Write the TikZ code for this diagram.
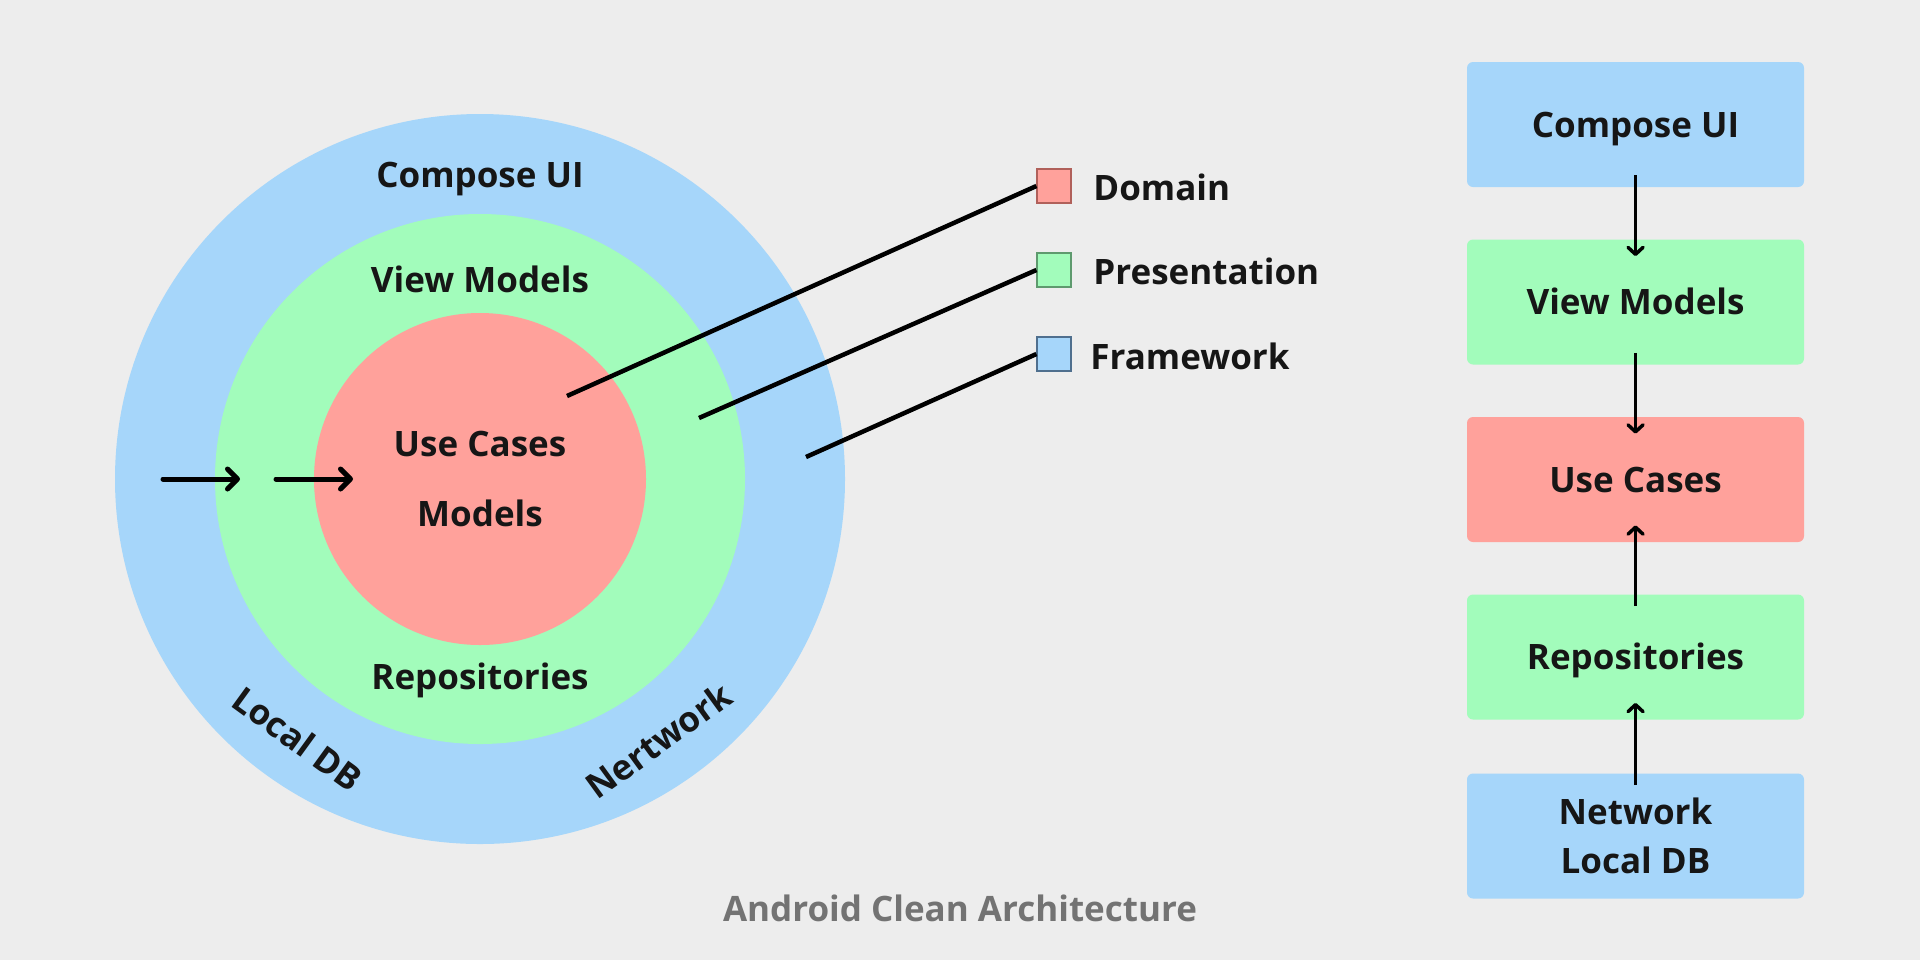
\documentclass[tikz,border=0pt]{standalone}
\usepackage{fontspec}
\setmainfont{Open Sans}
\usetikzlibrary{arrows.meta,calc}
\definecolor{bg}{HTML}{EDEDED}
\definecolor{fw}{HTML}{A6D6FA}
\definecolor{pres}{HTML}{A2FCBB}
\definecolor{dom}{HTML}{FFA19B}
\definecolor{ink}{HTML}{161616}
\definecolor{capgray}{HTML}{737373}
\definecolor{domedge}{HTML}{B0605A}
\definecolor{presedge}{HTML}{5E9A6E}
\definecolor{fwedge}{HTML}{4F6F8E}

\begin{document}
\begin{tikzpicture}[x=0.5pt,y=-0.5pt,
  lbl/.style={font=\fontsize{17.5}{24.5}\selectfont\bfseries, text=ink, inner sep=0pt},
  oneline/.style={text height=12.5pt, text depth=0pt},
  ring/.style={circle, inner sep=0pt, draw=none},
  layerbox/.style={lbl, rounded corners=3pt, minimum width=168.5pt,
    minimum height=62.5pt, align=center},
  swatch/.style={draw, line width=0.6pt, minimum size=17pt, inner sep=0pt},
  leader/.style={line width=2.25pt, draw=black},
  flow/.style={line width=2.5pt, line cap=round,
    -{Straight Barb[length=5pt,width=10pt,round]}},
  dep/.style={line width=1.75pt,
    -{Straight Barb[length=3.5pt,width=7.5pt,round]}}]

% canvas
\fill[bg] (0,0) rectangle (1920,960);
\useasboundingbox (0,0) rectangle (1920,960);

% concentric layers
\node[ring, fill=fw,   minimum size=365pt] (outer) at (480,479) {};
\node[ring, fill=pres, minimum size=265pt] (middle) at (480,479) {};
\node[ring, fill=dom,  minimum size=166pt] (inner) at (480,479) {};

% ring labels
\node[lbl, oneline] (tcompose) at (480,175) {Compose UI};
\node[lbl, oneline] (tview)    at (480,280) {View Models};
\node[lbl, oneline] (tuse)     at (480,444) {Use Cases};
\node[lbl, oneline] (tmodels)  at (480,514) {Models};
\node[lbl, oneline] (trepo)    at (480,677) {Repositories};
\node[lbl, oneline, rotate=-36] (tlocal) at (297,739) {Local DB};
\node[lbl, oneline, rotate=36]  (tnet)   at (659,741) {Nertwork};

% inward flow arrows
\coordinate (fa1) at (163,479);
\coordinate (fb1) at (240,479);
\coordinate (fa2) at (276,479);
\coordinate (fb2) at (353,479);
\draw[flow] (fa1) -- (fb1);
\draw[flow] (fa2) -- (fb2);

% legend
\node[swatch, fill=dom,  draw=domedge]  (sdom)  at (1054,186) {};
\node[swatch, fill=pres, draw=presedge] (spres) at (1054,270) {};
\node[swatch, fill=fw,   draw=fwedge]   (sfw)   at (1054,354) {};
\node[lbl, oneline, anchor=west] (ldom)  at (1093,188) {Domain};
\node[lbl, oneline, anchor=west] (lpres) at (1093,272) {Presentation};
\node[lbl, oneline, anchor=west] (lfw)   at (1090,357) {Framework};

\coordinate (pdom)  at (567,396);
\coordinate (ppres) at (699,418);
\coordinate (pfw)   at (806,457);
\draw[leader] (pdom)  -- (sdom.west);
\draw[leader] (ppres) -- (spres.west);
\draw[leader] (pfw)   -- (sfw.west);

% dependency stack
\node[layerbox, oneline, fill=fw]   (bui)   at (1635.5,124.5) {Compose UI};
\node[layerbox, oneline, fill=pres] (bvm)   at (1635.5,302)   {View Models};
\node[layerbox, oneline, fill=dom]  (buc)   at (1635.5,479.5) {Use Cases};
\node[layerbox, oneline, fill=pres] (brepo) at (1635.5,657)   {Repositories};
\node[layerbox, fill=fw]            (bdata) at (1635.5,836)   {Network\\Local DB};

\draw[dep] ($(bui.south)+(0,-12)$)   -- ($(bvm.north)+(0,17)$);
\draw[dep] ($(bvm.south)+(0,-12)$)   -- ($(buc.north)+(0,17)$);
\draw[dep] ($(brepo.north)+(0,12)$)  -- ($(buc.south)+(0,-17)$);
\draw[dep] ($(bdata.north)+(0,12)$)  -- ($(brepo.south)+(0,-17)$);

% caption
\node[lbl, oneline, text=capgray] (caption) at (960,909) {Android Clean Architecture};
\end{tikzpicture}
\end{document}
